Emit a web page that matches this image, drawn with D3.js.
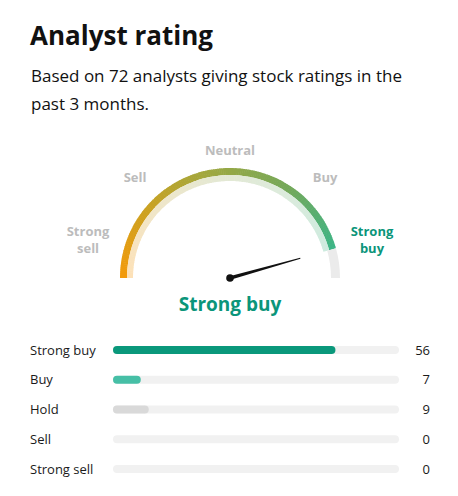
<!DOCTYPE html>
<html><head><meta charset="utf-8">
<script src="https://cdn.jsdelivr.net/npm/d3@7"></script>
<style>
html,body{margin:0;padding:0;background:#fff;}
svg{display:block;font-family:"Open Sans",sans-serif;}
</style></head>
<body>
<script>
const title = "Analyst rating";
const subtitleLines = ["Based on 72 analysts giving stock ratings in the", "past 3 months."];
const categories = ["Strong buy", "Buy", "Hold", "Sell", "Strong sell"];
const counts = [56, 7, 9, 0, 0];
const weights = [5, 4, 3, 2, 1];
const gaugeLabels = ["Strong sell", "Sell", "Neutral", "Buy", "Strong buy"];
const verdict = "Strong buy";

const W = 458, H = 496;
const svg = d3.select("body").append("svg").attr("width", W).attr("height", H);

svg.append("text").attr("x", 30).attr("y", 45).attr("font-size", 26).attr("font-weight", 700)
  .attr("fill", "#111").text(title);
svg.selectAll("text.sub").data(subtitleLines).join("text").attr("class", "sub")
  .attr("x", 31).attr("y", (d, i) => 82 + i * 28).attr("font-size", 17).attr("fill", "#111").text(d => d);

// gauge
const total = d3.sum(counts);
const score = d3.sum(counts.map((c, i) => c * weights[i])) / total;
const cx = 230, cy = 278;
const ang = d3.scaleLinear().domain([1, 5]).range([-Math.PI / 2, Math.PI / 2]);
const g = svg.append("g").attr("transform", `translate(${cx},${cy})`);

const outerCol = d3.piecewise(d3.interpolateRgb, ["#f39a0a", "#c9a223", "#9ba843", "#74a85a", "#3db587"]);
const innerCol = d3.piecewise(d3.interpolateRgb, ["#fde1b8", "#f0e6c8", "#e4e8d3", "#dcebdc", "#cdebdf"]);
const a0 = ang(1), a1 = ang(score);
const N = 160;
const segs = d3.range(N).map(i => ({s: a0 + (a1 - a0) * i / N, e: a0 + (a1 - a0) * (i + 1.3) / N, t: i / (N - 1)}));
g.selectAll("path.o").data(segs).join("path").attr("class", "o")
  .attr("d", d => d3.arc().innerRadius(103).outerRadius(110).startAngle(d.s).endAngle(Math.min(d.e, a1))())
  .attr("fill", d => outerCol(d.t));
g.selectAll("path.i").data(segs).join("path").attr("class", "i")
  .attr("d", d => d3.arc().innerRadius(97).outerRadius(103).startAngle(d.s).endAngle(Math.min(d.e, a1))())
  .attr("fill", d => innerCol(d.t));
g.append("path").attr("d", d3.arc().innerRadius(101).outerRadius(110).startAngle(a1).endAngle(ang(5))())
  .attr("fill", "#ebebeb");

// labels
const labelPos = [
  {a: -75, r: 147}, {a: -43.5, r: 138}, {a: 0, r: 128}, {a: 43.5, r: 138}, {a: 75, r: 147}
];
gaugeLabels.forEach((lab, i) => {
  const p = labelPos[i];
  const rad = p.a * Math.PI / 180;
  const x = p.r * Math.sin(rad), y = -p.r * Math.cos(rad);
  const words = lab.split(" ");
  const active = lab === verdict;
  const t = g.append("text").attr("text-anchor", "middle").attr("font-size", 13).attr("font-weight", 700)
    .attr("fill", active ? "#0b957a" : "#bcbcbc");
  words.forEach((w, k) => {
    t.append("tspan").attr("x", x).attr("y", y + 4.5 + (k - (words.length - 1) / 2) * 17).text(w);
  });
});

// needle
const na = ang(score);
const L = 73;
const tip = [L * Math.sin(na), -L * Math.cos(na)];
const perp = [Math.cos(na), Math.sin(na)];
g.append("path").attr("d", `M${-perp[0]*1.8},${-perp[1]*1.8} L${perp[0]*1.8},${perp[1]*1.8} L${tip[0]+perp[0]*0.5},${tip[1]+perp[1]*0.5} L${tip[0]-perp[0]*0.5},${tip[1]-perp[1]*0.5} Z`)
  .attr("fill", "#111");
g.append("circle").attr("r", 3.8).attr("fill", "#111");

svg.append("text").attr("x", cx).attr("y", 311).attr("text-anchor", "middle").attr("font-size", 19)
  .attr("font-weight", 700).attr("fill", "#0b957a").text(verdict);

// bars
const x = d3.scaleLinear().domain([0, total]).range([113, 399]);
const y = d3.scalePoint().domain(categories).range([350, 469]);
const barCol = {"Strong buy": "#0a987b", "Buy": "#46bfa6", "Hold": "#d9d9d9", "Sell": "#d9d9d9", "Strong sell": "#d9d9d9"};
const rows = svg.selectAll("g.row").data(categories.map((c, i) => ({c, v: counts[i]}))).join("g").attr("class", "row");
rows.append("text").attr("x", 30).attr("y", d => y(d.c) + 4.5).attr("font-size", 13).attr("fill", "#1a1a1a").text(d => d.c);
rows.append("rect").attr("x", x(0)).attr("y", d => y(d.c) - 4).attr("width", x(total) - x(0)).attr("height", 8)
  .attr("rx", 4).attr("fill", "#f1f1f1");
rows.filter(d => d.v > 0).append("rect").attr("x", x(0)).attr("y", d => y(d.c) - 4)
  .attr("width", d => x(d.v) - x(0)).attr("height", 8).attr("rx", 4).attr("fill", d => barCol[d.c]);
rows.append("text").attr("x", 430).attr("y", d => y(d.c) + 4.5).attr("text-anchor", "end").attr("font-size", 13)
  .attr("fill", "#1a1a1a").text(d => d.v);
</script>
</body></html>
